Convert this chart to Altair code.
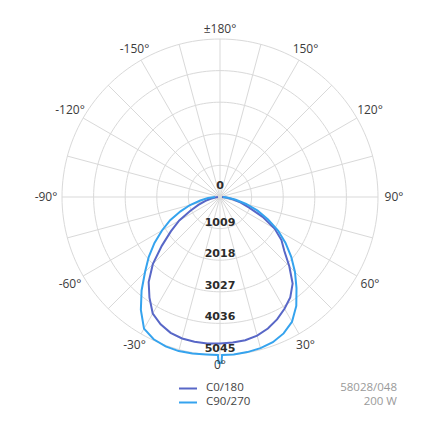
import altair as alt
import pandas as pd

# ---------------- data ----------------
GAMMA_C0 = [-90, -85, -80, -75, -70, -65, -60, -55, -50, -45, -40, -35, -30, -25, -20, -15, -10, -5, 0,
            5, 10, 15, 20, 25, 30, 35, 40, 45, 50, 55, 60, 65, 70, 75, 80, 85, 90]
C0_180 = [64, 160, 287, 479, 734, 1054, 1501, 1916, 2427, 3033, 3544, 3927, 4295, 4486, 4614, 4678, 4694, 4694, 4678,
          4662, 4646, 4582, 4470, 4311, 4119, 3911, 3608, 3129, 2682, 2395, 2012, 1501, 990, 671, 415, 192, 64]

GAMMA_C90 = [-90, -85, -80, -75, -70, -65, -60, -55, -50, -45, -40, -35, -30, -25, -20, -15, -10, -5, -0.75, -0.5,
             0.5, 0.75, 5, 10, 15, 20, 25, 30, 35, 40, 45, 50, 55, 60, 65, 70, 75, 80, 85, 90]
C90_270 = [160, 383, 639, 990, 1341, 1756, 2139, 2554, 2969, 3385, 3895, 4406, 4853, 5013, 5077, 5093, 5077, 5045, 5045, 5300,
           5300, 5045, 5045, 5029, 4997, 4933, 4806, 4598, 4247, 3800, 3385, 2969, 2554, 2139, 1692, 1277, 862, 511, 255, 96]

SERIES = ["C0/180", "C90/270"]
COLORS = ["#5867c7", "#35a3ee"]

RINGS = [1009, 2018, 3027, 4036, 5045]
RING_LABELS = ["1009", "2018", "3027", "4036", "5045"]

SPOKES = list(range(0, 360, 15))
ANGLE_TICKS = [-150, -120, -90, -60, -30, 0, 30, 60, 90, 120, 150, 180]
ANGLE_LABELS = ["-150°", "-120°", "-90°", "-60°", "-30°", "0°", "30°", "60°", "90°", "120°", "150°", "±180°"]

INFO = ["58028/048", "200 W"]

# ---------------- layout ----------------
W = H = 419
CX, CY = 212, 189          # centre of the diagram in plot pixels
RMAX_PX = 158              # pixel radius of the outer ring
K = RINGS[-1] / RMAX_PX    # candela per pixel

xs = alt.Scale(domain=[-CX * K, (W - CX) * K], nice=False, zero=False)
ys = alt.Scale(domain=[-(H - CY) * K, CY * K], nice=False, zero=False)

GRID = "#d9d9d9"

# grid circles
circ = pd.DataFrame([{"r": r, "a": a} for r in RINGS for a in range(0, 362, 2)])
circles = alt.Chart(circ).transform_calculate(
    x="datum.r*sin(datum.a*PI/180)", y="-datum.r*cos(datum.a*PI/180)"
).mark_line(color=GRID, strokeWidth=1).encode(
    x=alt.X("x:Q", scale=xs, axis=None),
    y=alt.Y("y:Q", scale=ys, axis=None),
    detail="r:N",
    order="a:Q",
)

# spokes
sp = pd.DataFrame({"a": SPOKES, "r": RINGS[-1]})
spokes = alt.Chart(sp).transform_calculate(
    x0="0", y0="0",
    x1="datum.r*sin(datum.a*PI/180)", y1="-datum.r*cos(datum.a*PI/180)"
).mark_rule(color=GRID, strokeWidth=1).encode(
    x=alt.X("x0:Q", scale=xs, axis=None), x2="x1:Q",
    y=alt.Y("y0:Q", scale=ys, axis=None), y2="y1:Q",
)

# curves
curve_df = pd.concat([
    pd.DataFrame({"series": SERIES[0], "g": GAMMA_C0, "v": C0_180}),
    pd.DataFrame({"series": SERIES[1], "g": GAMMA_C90, "v": C90_270}),
])
curves = alt.Chart(curve_df).transform_calculate(
    x="datum.v*sin(datum.g*PI/180)", y="-datum.v*cos(datum.g*PI/180)"
).mark_line(strokeWidth=2).encode(
    x=alt.X("x:Q", scale=xs, axis=None),
    y=alt.Y("y:Q", scale=ys, axis=None),
    color=alt.Color("series:N", scale=alt.Scale(domain=SERIES, range=COLORS), legend=None),
    detail="series:N",
    order="g:Q",
)

# ring labels
rl = pd.DataFrame({"v": RINGS, "t": RING_LABELS})
ring_labels = alt.Chart(rl).transform_calculate(x="0", y="-datum.v").mark_text(
    font="DejaVu Sans", fontWeight="bold", fontSize=11, color="#2b2b2b", dy=-6
).encode(
    x=alt.X("x:Q", scale=xs, axis=None),
    y=alt.Y("y:Q", scale=ys, axis=None),
    text="t:N",
)
zero_label = alt.Chart(pd.DataFrame({"t": ["0"]})).transform_calculate(x="0", y="0").mark_text(
    font="DejaVu Sans", fontWeight="bold", fontSize=11, color="#2b2b2b", dy=-11
).encode(
    x=alt.X("x:Q", scale=xs, axis=None),
    y=alt.Y("y:Q", scale=ys, axis=None),
    text="t:N",
)

# angle labels
al = pd.DataFrame({"a": ANGLE_TICKS, "t": ANGLE_LABELS})
angle_labels = alt.Chart(al).transform_calculate(
    rr=f"(168 + 6*abs(sin(datum.a*PI/180)))*{K}",
).transform_calculate(
    x="datum.rr*sin(datum.a*PI/180)", y="-datum.rr*cos(datum.a*PI/180)"
).mark_text(font="Open Sans", fontSize=12, color="#3c3c3c", align="center", baseline="middle").encode(
    x=alt.X("x:Q", scale=xs, axis=None),
    y=alt.Y("y:Q", scale=ys, axis=None),
    text="t:N",
)

# legend (drawn manually below the diagram)
legend_layers = []
for i, (name, col) in enumerate(zip(SERIES, COLORS)):
    yy = 380.5 + 14 * i
    legend_layers.append(
        alt.Chart(pd.DataFrame({"t": [name]})).mark_rule(color=col, strokeWidth=2).encode(
            x=alt.value(171), x2=alt.value(189), y=alt.value(yy)
        )
    )
    legend_layers.append(
        alt.Chart(pd.DataFrame({"t": [name]})).mark_text(
            font="Open Sans", fontSize=11.5, color="#444444", align="left", baseline="middle"
        ).encode(x=alt.value(198), y=alt.value(yy - 0.5), text="t:N")
    )
    legend_layers.append(
        alt.Chart(pd.DataFrame({"t": [INFO[i]]})).mark_text(
            font="Open Sans", fontSize=11.5, color="#9a9a9a", align="right", baseline="middle"
        ).encode(x=alt.value(389), y=alt.value(yy - 0.5), text="t:N")
    )

chart = alt.layer(
    circles, spokes, curves, ring_labels, zero_label, angle_labels, *legend_layers
).properties(
    width=W, height=H, padding=0, autosize=alt.AutoSizeParams(type="none")
).configure_view(stroke=None)

chart.save("out.html", embed_options={"renderer": "svg", "actions": False})
